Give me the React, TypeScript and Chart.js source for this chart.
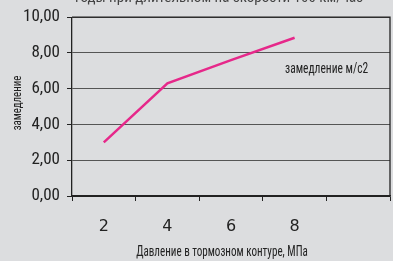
import React, { useEffect, useRef } from "react";
import { Chart, registerables } from "chart.js";

Chart.register(...registerables);

const categories = ["2", "4", "6", "8", ""];
const decelValues = [3.0, 6.3, 7.6, 8.85, null];
const seriesLabel = "замедление м/с2";
const yTitle = "замедление";
const xTitle = "Давление в тормозном контуре, МПа";
const topTitle = "годы при длительном на скорости 100 км/час";

const NARROW = "'Roboto Condensed', 'DejaVu Sans Condensed', sans-serif";

function drawSqueezed(ctx: any, text: string, x: number, y: number, size: number, sx: number, align: string, rot = 0) {
  ctx.save();
  ctx.translate(x, y);
  if (rot) ctx.rotate(rot);
  ctx.scale(sx, 1);
  ctx.font = size + "px " + NARROW;
  ctx.textAlign = align;
  ctx.textBaseline = "middle";
  ctx.fillText(text, 0, 0);
  ctx.restore();
}

export default function App() {
  const ref = useRef<HTMLCanvasElement>(null);
  useEffect(() => {
    document.body.style.margin = "0";
    const canvas = ref.current!;
    const bgPlugin = {
      id: "bg",
      beforeDraw(chart: any) {
        const { ctx, width, height } = chart;
        ctx.save();
        ctx.fillStyle = "#dcdddf";
        ctx.fillRect(0, 0, width, height);
        ctx.restore();
      },
      afterDraw(chart: any) {
        const { ctx, chartArea } = chart;
        ctx.save();
        ctx.strokeStyle = "#222";
        ctx.lineWidth = 1.3;
        ctx.beginPath();
        ctx.moveTo(chartArea.left, chartArea.top);
        ctx.lineTo(chartArea.right, chartArea.top);
        ctx.lineTo(chartArea.right, chartArea.bottom);
        ctx.stroke();
        ctx.fillStyle = "#222";
        // series label (legend)
        drawSqueezed(ctx, chart.data.datasets[0].label, 285, 69, 14, 0.82, "left");
        // axis titles
        drawSqueezed(ctx, xTitle, 222, 252, 14, 0.79, "center");
        drawSqueezed(ctx, yTitle, 18, 103, 13.5, 0.8, "center", -Math.PI / 2);
        // cut-off top title
        ctx.fillStyle = "#444";
        ctx.save();
        ctx.translate(75, 2);
        ctx.font = "15px " + NARROW;
        ctx.textAlign = "left";
        ctx.textBaseline = "alphabetic";
        ctx.fillText(topTitle, 0, 0);
        ctx.restore();
        ctx.restore();
      },
    };
    const chart = new Chart(canvas, {
      type: "line",
      data: {
        labels: categories,
        datasets: [
          {
            label: seriesLabel,
            data: decelValues,
            borderColor: "#e6288a",
            borderWidth: 2.5,
            pointRadius: 0,
            tension: 0,
            fill: false,
          },
        ],
      },
      options: {
        animation: false,
        responsive: false,
        maintainAspectRatio: false,
        layout: { padding: { top: 14, right: 3, left: 0, bottom: 0 } },
        plugins: { legend: { display: false }, tooltip: { enabled: false } },
        scales: {
          x: {
            offset: true,
            grid: {
              display: true,
              offset: true,
              drawOnChartArea: false,
              drawTicks: true,
              tickLength: 5,
              color: "#222",
            },
            border: { display: true, color: "#222", width: 1.3 },
            ticks: {
              color: "#222",
              font: { family: "'DejaVu Sans', sans-serif", size: 16 },
              padding: 16,
              maxRotation: 0,
            },
            title: { display: false, text: xTitle },
            afterFit(scale: any) {
              scale.height = 65;
            },
          },
          y: {
            min: 0,
            max: 10,
            ticks: {
              stepSize: 2,
              color: "#222",
              font: { family: NARROW, size: 17 },
              padding: 7,
              callback: (v: any) => Number(v).toFixed(2).replace(".", ","),
            },
            grid: {
              color: (c: any) => (c.tick && c.tick.value === 0 ? "#222" : "#555"),
              lineWidth: 1,
              tickLength: 5,
              tickColor: "#222",
            },
            border: { display: true, color: "#222", width: 1.3 },
            title: { display: false, text: yTitle },
            afterFit(scale: any) {
              scale.width = 72;
            },
          },
        },
      },
      plugins: [bgPlugin],
    } as any);
    return () => chart.destroy();
  }, []);
  return (
    <div style={{ width: 393, height: 261 }}>
      <canvas ref={ref} width={393} height={261} style={{ display: "block" }} />
    </div>
  );
}
